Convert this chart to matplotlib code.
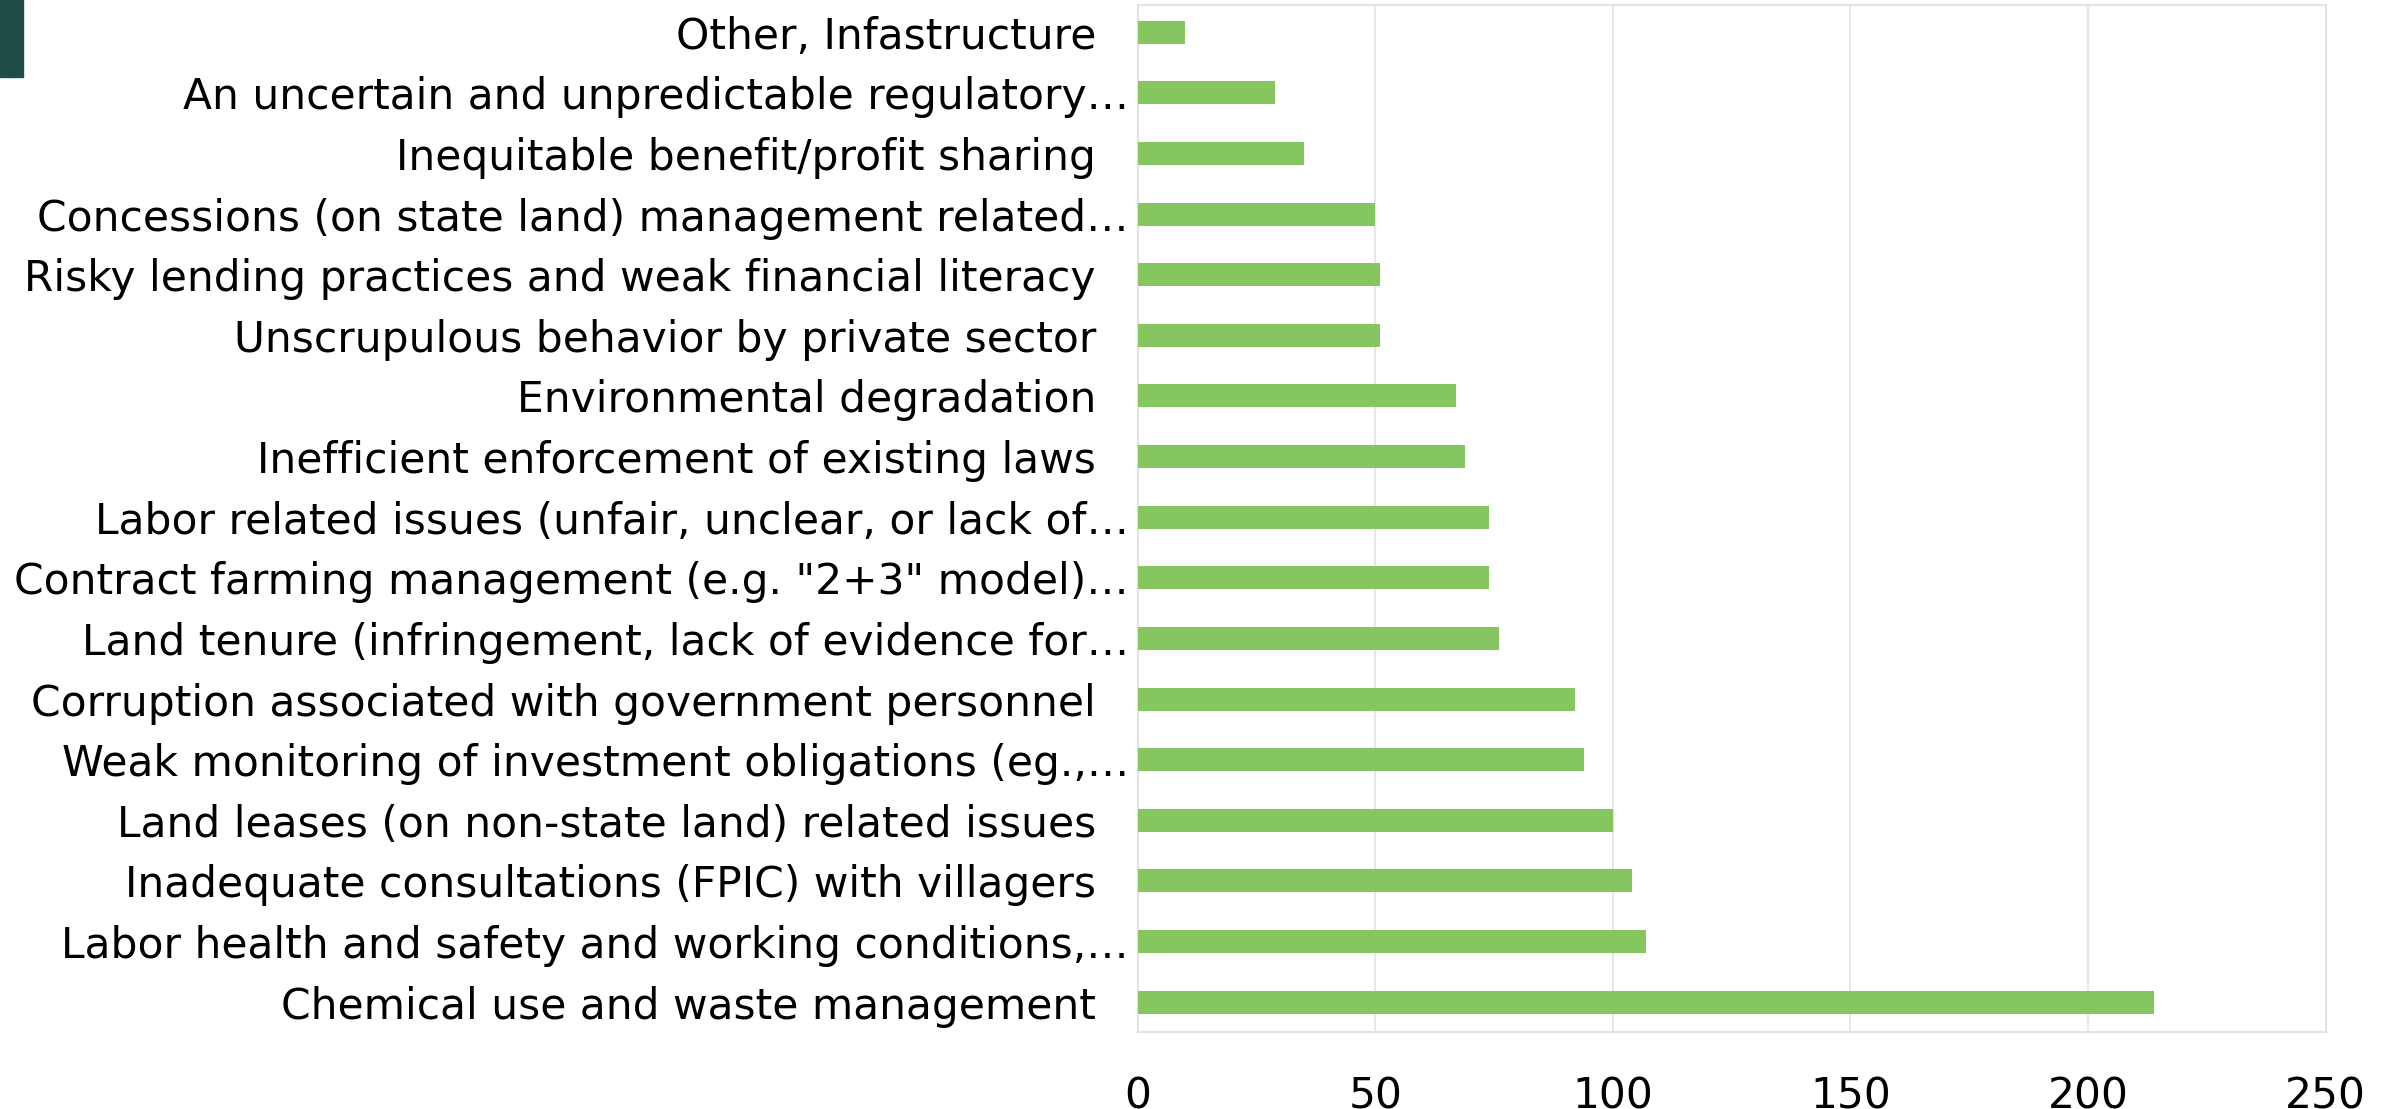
import matplotlib
matplotlib.use("Agg")
import matplotlib.pyplot as plt
import matplotlib.transforms as mtrans
from matplotlib.patches import Rectangle

# categories top to bottom, as in the picture
categories = [
    "Other, Infastructure",
    "An uncertain and unpredictable regulatory…",
    "Inequitable benefit/profit sharing",
    "Concessions (on state land) management related…",
    "Risky lending practices and weak financial literacy",
    "Unscrupulous behavior by private sector",
    "Environmental degradation",
    "Inefficient enforcement of existing laws",
    "Labor related issues (unfair, unclear, or lack of…",
    "Contract farming management (e.g. \"2+3\" model)…",
    "Land tenure (infringement, lack of evidence for…",
    "Corruption associated with government personnel",
    "Weak monitoring of investment obligations (eg.,…",
    "Land leases (on non-state land) related issues",
    "Inadequate consultations (FPIC) with villagers",
    "Labor health and safety and working conditions,…",
    "Chemical use and waste management",
]
counts = [10, 29, 35, 50, 51, 51, 67, 69, 74, 74, 76, 92, 94, 100, 104, 107, 214]
xticks = [0, 50, 100, 150, 200, 250]

bar_color = "#86C661"
grid_color = "#E3E3E3"

fig = plt.figure(figsize=(23.95, 11.09), dpi=100)
ax = fig.add_axes([0.475, 0.069, 0.496, 0.9265])

# first category on top
pos = list(range(len(categories)))[::-1]
ax.barh(pos, counts, height=0.38, color=bar_color, zorder=3)

ax.set_xlim(0, 250)
ax.set_ylim(-0.5, len(categories) - 0.55)
ax.set_xticks(xticks)
ax.set_xticklabels([str(t) for t in xticks])
ax.set_yticks(pos)
ax.set_yticklabels(categories)

ax.tick_params(axis="y", length=0, pad=30, labelsize=30.5)
ax.tick_params(axis="x", length=0, pad=31, labelsize=30.5)

# truncated labels sit a bit further right
for lab in ax.get_yticklabels():
    if lab.get_text().endswith("…"):
        lab.set_transform(lab.get_transform() +
                          mtrans.ScaledTranslation(0.33, 0, fig.dpi_scale_trans))

ax.grid(axis="x", color=grid_color, linewidth=1.2, zorder=0)
for side in ["top", "right", "bottom", "left"]:
    ax.spines[side].set_color(grid_color)
    ax.spines[side].set_linewidth(1.5)

# dark mark at top left
fig.patches.append(Rectangle((0, 1 - 77 / 1109), 23 / 2395, 77 / 1109,
                             transform=fig.transFigure, color="#1E4D45"))

fig.savefig("out.png", dpi=100)
